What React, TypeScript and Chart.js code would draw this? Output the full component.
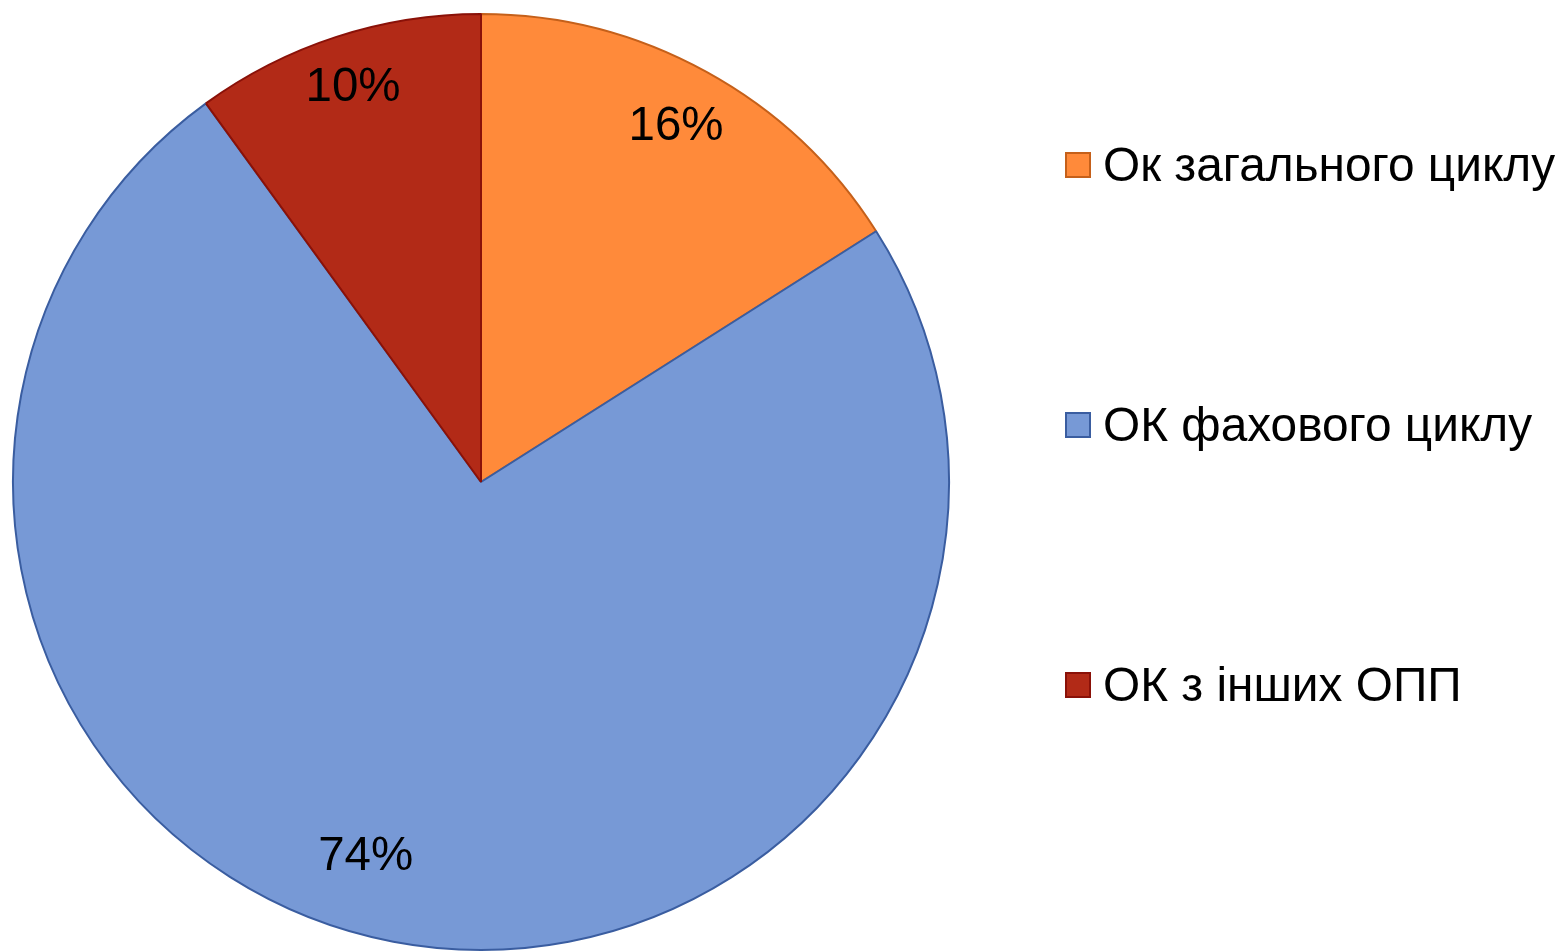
import React, { useEffect, useRef } from "react";
import { Chart, registerables } from "chart.js";

Chart.register(...registerables);

const categories = ["Ок загального циклу", "ОК фахового циклу", "ОК з інших ОПП"];
const values = [16, 74, 10];
const percentLabels = ["16%", "74%", "10%"];
const fillColors = ["#FF8A3A", "#7799D6", "#B22A17"];
const borderColors = ["#C5601A", "#3A5DA0", "#8A1108"];

const FONT = "'Liberation Sans', Arial, sans-serif";

const labelPlugin = {
  id: "pctLabels",
  afterDatasetsDraw(chart: any) {
    const ctx = chart.ctx;
    const meta = chart.getDatasetMeta(0);
    const radial = [0.865, 0.838, 0.885];
    const angShift = [0, 0.11, 0];
    ctx.save();
    ctx.font = `47.5px ${FONT}`;
    ctx.fillStyle = "#000";
    ctx.textAlign = "center";
    ctx.textBaseline = "middle";
    meta.data.forEach((arc: any, i: number) => {
      const { x, y, startAngle, endAngle, outerRadius } = arc.getProps(
        ["x", "y", "startAngle", "endAngle", "outerRadius"],
        true
      );
      const mid = (startAngle + endAngle) / 2 + angShift[i];
      const r = outerRadius * radial[i];
      ctx.fillText(percentLabels[i], x + Math.cos(mid) * r, y + Math.sin(mid) * r);
    });
    ctx.restore();
  },
};

const legendPlugin = {
  id: "sideLegend",
  afterDraw(chart: any) {
    const ctx = chart.ctx;
    const x0 = 1066;
    const ys = [165, 425, 685];
    ctx.save();
    ctx.font = `47.8px ${FONT}`;
    ctx.textBaseline = "middle";
    ctx.textAlign = "left";
    categories.forEach((c, i) => {
      ctx.fillStyle = fillColors[i];
      ctx.fillRect(x0, ys[i] - 12, 24, 24);
      ctx.strokeStyle = borderColors[i];
      ctx.lineWidth = 2;
      ctx.strokeRect(x0, ys[i] - 12, 24, 24);
      ctx.fillStyle = "#000";
      ctx.fillText(c, 1103, ys[i] + 3);
    });
    ctx.restore();
  },
};

export default function App() {
  const ref = useRef<HTMLCanvasElement | null>(null);
  useEffect(() => {
    document.body.style.margin = "0";
    const chart = new Chart(ref.current as HTMLCanvasElement, {
      type: "pie",
      data: {
        labels: categories,
        datasets: [
          {
            data: values,
            backgroundColor: fillColors,
            borderColor: borderColors,
            borderWidth: 2,
          },
        ],
      },
      options: {
        responsive: false,
        animation: false,
        layout: { padding: { left: 12, top: 13, right: 611, bottom: 1 } },
        plugins: {
          legend: { display: false },
          tooltip: { enabled: false },
        },
      },
      plugins: [labelPlugin, legendPlugin],
    });
    return () => chart.destroy();
  }, []);
  return (
    <div style={{ width: 1561, height: 952, background: "#fff" }}>
      <canvas ref={ref} width={1561} height={952} style={{ display: "block" }} />
    </div>
  );
}
